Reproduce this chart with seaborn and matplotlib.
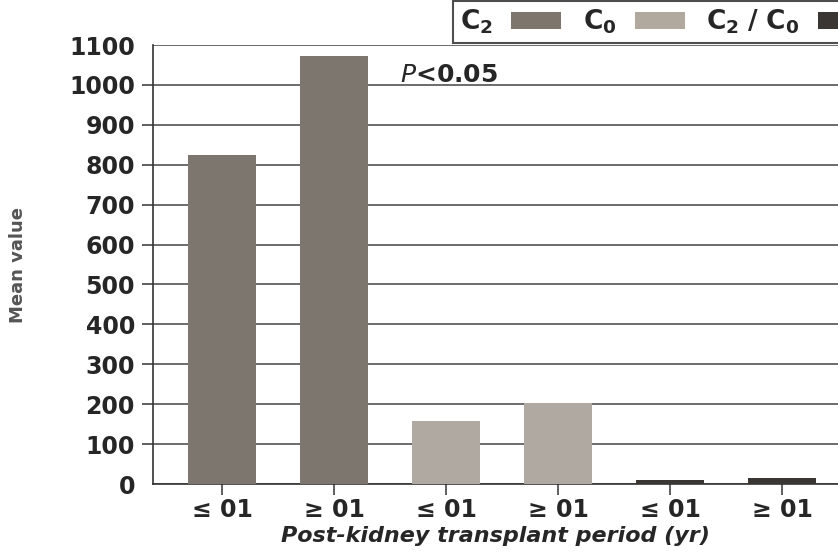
import pandas as pd
import numpy as np
import matplotlib.pyplot as plt
import seaborn as sns
from matplotlib.patches import Patch

# data
series = ['C2', 'C2', 'C0', 'C0', 'C2/C0', 'C2/C0']
periods = ['≤ 01', '≥ 01', '≤ 01', '≥ 01', '≤ 01', '≥ 01']
values = [825, 1072, 157, 202, 10, 15]
bar_ids = ['b1', 'b2', 'b3', 'b4', 'b5', 'b6']
legend_labels = [r'$\mathbf{C_2}$', r'$\mathbf{C_0}$', r'$\mathbf{C_2\ /\ C_0}$']
colors = {'C2': '#7e766d', 'C0': '#b2a99e', 'C2/C0': '#3a3633'}

df = pd.DataFrame({'bar': bar_ids, 'value': values, 'series': series})

sns.set_style('white')
plt.rcParams['font.family'] = ['DejaVu Sans']
plt.rcParams['mathtext.fontset'] = 'dejavusans'

fig = plt.figure(figsize=(8.38, 5.56), dpi=100)
ax = fig.add_axes([153 / 838, 1 - 484 / 556, 1 - 153 / 838, (484 - 45) / 556])

sns.barplot(data=df, x='bar', y='value', hue='series', palette=colors,
            dodge=False, width=0.607, legend=False, ax=ax, zorder=3,
            edgecolor='none')

ax.set_ylim(0, 1100)
ax.set_xlim(-0.616, 5.5)
ax.set_yticks(range(0, 1101, 100))
ax.yaxis.grid(True, color='#444444', linewidth=1.1, zorder=0)
ax.set_xticks(range(6))
ax.set_xticklabels(periods, fontsize=17, fontweight='bold')
for lab in ax.get_yticklabels():
    lab.set_fontsize(17)
    lab.set_fontweight('bold')
ax.tick_params(axis='y', direction='out', length=8, width=1.1, color='#333333',
               left=True, pad=5)
ax.tick_params(axis='x', direction='out', length=8, width=1.1, color='#333333',
               bottom=True, pad=2)
yt = ax.yaxis.get_major_ticks()
yt[0].tick1line.set_visible(False)
yt[-1].tick1line.set_visible(False)
for s in ['top', 'right']:
    ax.spines[s].set_visible(False)
for s in ['left', 'bottom']:
    ax.spines[s].set_color('#333333')
    ax.spines[s].set_linewidth(1.2)

ax.set_xlabel('Post-kidney transplant period (yr)', fontsize=16, fontweight='bold',
              fontstyle='italic', labelpad=3)
ax.set_ylabel('Mean value', fontsize=13, color='#555555', fontweight='bold',
              family=['Liberation Sans Narrow', 'DejaVu Sans'], labelpad=30)

ax.text(1.59, 1008, r'$\mathbf{\mathit{P}}$<0.05', fontsize=18, fontweight='bold',
        va='baseline', ha='left', zorder=4)

handles = [Patch(facecolor=colors[k], edgecolor='none') for k in ['C2', 'C0', 'C2/C0']]
leg = fig.legend(handles, legend_labels, loc='upper left', bbox_to_anchor=(452 / 838, 1.0),
                 ncol=3, markerfirst=False, frameon=True, fancybox=False,
                 fontsize=19, handlelength=1.9, handleheight=0.6, columnspacing=0.8,
                 handletextpad=0.7, borderpad=0.25, borderaxespad=0.05)
leg.get_frame().set_edgecolor('#222222')
leg.get_frame().set_linewidth(1.5)

fig.savefig('out.png', dpi=100)
